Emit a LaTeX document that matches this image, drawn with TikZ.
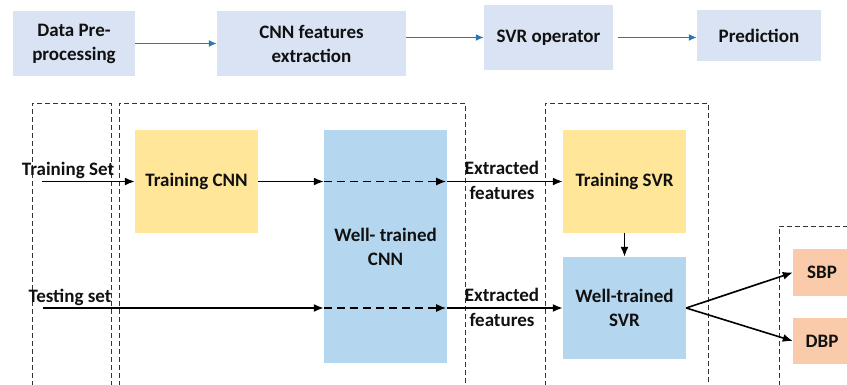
\documentclass[tikz,border=0pt]{standalone}
\usepackage{fontspec}
\setmainfont{Carlito}
\usetikzlibrary{arrows.meta}
\definecolor{topblue}{HTML}{DAE3F3}
\definecolor{yel}{HTML}{FFE699}
\definecolor{wblue}{HTML}{B4D6EE}
\definecolor{orng}{HTML}{F9CBAA}
\definecolor{arrblue}{HTML}{2E75B6}
\definecolor{txt}{HTML}{111111}
\definecolor{frame}{HTML}{333333}
\tikzset{
  box/.style={draw=none, inner sep=0pt, align=center, text=txt,
    font=\bfseries\fontsize{19}{24}\selectfont},
  lbl/.style={inner sep=0pt, align=center, text=txt,
    font=\bfseries\fontsize{19}{25}\selectfont},
  bluearrow/.style={draw=arrblue, line width=1.3pt, -{Latex[length=8pt,width=7pt]}},
  blackarrow/.style={draw=black, line width=1.6pt, -{Latex[length=10pt,width=8pt]}},
  dasharrow/.style={blackarrow, dash pattern=on 8pt off 5pt},
  dframe/.style={draw=frame, line width=0.9pt, dash pattern=on 5pt off 3pt},
}
\begin{document}
\begin{tikzpicture}[x=1pt,y=-1pt]
\useasboundingbox (0,0) rectangle (847,385);
% top row
\node[box, fill=topblue, minimum width=122pt, minimum height=65pt] (dp) at (74,43.5) {Data Pre-\\processing};
\node[box, fill=topblue, minimum width=189pt, minimum height=65pt] (cnnf) at (311.5,43.5) {CNN features\\extraction};
\node[box, fill=topblue, minimum width=129pt, minimum height=65pt] (svro) at (548.5,37.5) {SVR operator};
\node[box, fill=topblue, minimum width=124pt, minimum height=51pt] (pred) at (759,35.5) {Prediction};
\draw[bluearrow] (dp.east) -- (cnnf.west);
\draw[bluearrow] (cnnf.east |- svro.west) -- (svro.west);
\draw[bluearrow] ([xshift=5pt]svro.east) -- (pred.west |- svro.east);
% frames
\draw[dframe] (32,386) -- (32,103) -- (111,103) -- (111,386);
\draw[dframe] (119,386) -- (119,103) -- (465,103) -- (465,386);
\draw[dframe] (545,386) -- (545,103) -- (708,103) -- (708,386);
\draw[dframe] (779,386) -- (779,226) -- (850,226);
% boxes
\node[box, fill=yel, minimum width=123pt, minimum height=103pt] (tcnn) at (196.5,181.5) {Training CNN};
\node[box, fill=wblue, minimum width=123pt, minimum height=233pt] (wcnn) at (385.5,246.5) {Well- trained\\CNN};
\node[box, fill=yel, minimum width=123pt, minimum height=103pt] (tsvr) at (624.5,181.5) {Training SVR};
\node[box, fill=wblue, minimum width=123pt, minimum height=102pt] (wsvr) at (624.5,308) {Well-trained\\SVR};
\node[box, fill=orng, minimum width=58pt, minimum height=47pt] (sbp) at (822,272.5) {SBP};
\node[box, fill=orng, minimum width=58pt, minimum height=46pt] (dbp) at (822,341) {DBP};
% labels
\node[lbl] (trs) at (68,170) {Training Set};
\node[lbl] (tes) at (70,297) {Testing set};
\node[lbl] (ef1) at (502,180.5) {Extracted\\features};
\node[lbl] (ef2) at (502,307.5) {Extracted\\features};
% connectors
\coordinate (trin) at (42,181.5);
\coordinate (tein) at (43,308);
\coordinate (w1) at (wcnn.west |- tcnn.east);
\coordinate (e1) at (wcnn.east |- tcnn.east);
\coordinate (w2) at (wcnn.west |- tein);
\coordinate (e2) at (wcnn.east |- tein);
\draw[blackarrow] (trin) -- (tcnn.west);
\draw[blackarrow] (tcnn.east) -- (w1);
\draw[dasharrow] (w1) -- ([xshift=-1pt]e1);
\draw[blackarrow] (e1) -- (tsvr.west);
\draw[blackarrow] (tein) -- (w2);
\draw[dasharrow] (w2) -- ([xshift=-1pt]e2);
\draw[blackarrow] (e2) -- (wsvr.west);
\draw[blackarrow] (tsvr.south) -- (wsvr.north);
\draw[blackarrow] (wsvr.east) -- (sbp.west);
\draw[blackarrow] (wsvr.east) -- (dbp.west);
\end{tikzpicture}
\end{document}
